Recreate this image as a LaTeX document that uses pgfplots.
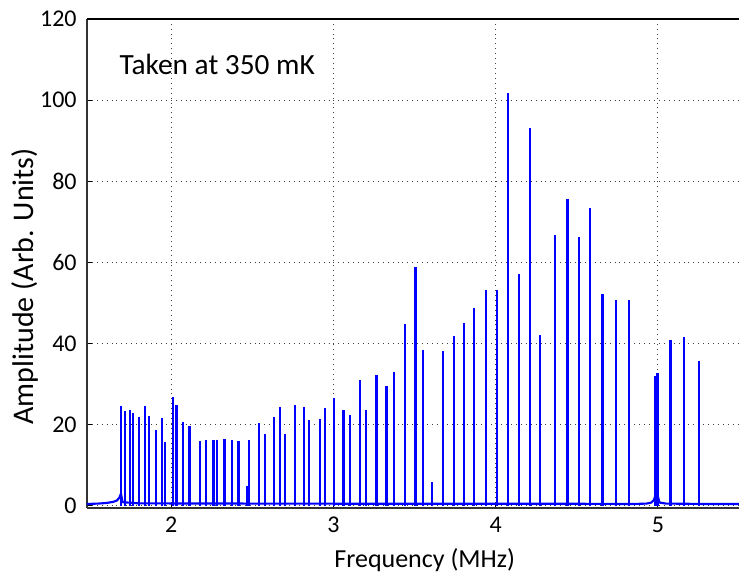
\documentclass[border=0pt]{standalone}
\usepackage{pgfplots}
\pgfplotsset{compat=1.18}
\usepackage{pgfplotstable}
\usepackage{fontspec}
\setmainfont{Carlito}

% resonance peaks: frequency (MHz), amplitude (arb. units)
\pgfplotstableread{
f      h
1.690  24.7
1.717  23.3
1.744  23.5
1.766  22.9
1.803  22.0
1.840  24.6
1.863  22.1
1.906  18.8
1.941  21.6
1.961  15.7
2.012  26.8
2.033  24.9
2.074  20.6
2.113  19.7
2.177  16.0
2.212  16.3
2.261  16.2
2.280  16.2
2.329  16.4
2.376  16.3
2.415  15.9
2.468  4.8
2.481  16.3
2.542  20.4
2.579  17.7
2.635  21.8
2.672  24.4
2.701  17.7
2.762  24.8
2.819  24.4
2.848  21.1
2.916  21.4
2.947  24.0
3.002  26.6
3.062  23.6
3.101  22.4
3.165  31.1
3.201  23.6
3.266  32.3
3.327  29.6
3.374  33.0
3.439  44.9
3.505  58.9
3.553  38.3
3.608  5.8
3.676  38.1
3.742  41.9
3.803  45.0
3.865  48.8
3.939  53.3
4.006  53.3
4.076  101.8
4.144  57.1
4.212  93.2
4.274  42.2
4.364  66.7
4.442  75.7
4.512  66.2
4.580  73.3
4.658  52.1
4.742  50.7
4.822  50.7
4.985  32.0
4.998  32.8
5.077  40.9
5.163  41.5
5.253  35.8
}\peaks

% background level between the resonances
\pgfplotstableread{
f      h
1.480  0.45
1.550  0.55
1.600  0.70
1.640  0.95
1.665  1.30
1.680  2.00
1.690  3.00
1.700  0.90
1.800  0.60
2.500  0.55
3.500  0.50
4.500  0.50
4.850  0.45
4.930  0.55
4.960  0.80
4.975  1.40
4.985  2.60
4.998  2.60
5.010  0.80
5.050  0.55
5.300  0.45
5.500  0.45
}\background

\begin{document}
\begin{tikzpicture}
\begin{axis}[
  at={(0,0)}, anchor=south west,
  scale only axis,
  width=489.3pt, height=366.8pt,
  xmin=1.48, xmax=5.5,
  ymin=-0.5, ymax=120,
  axis x line*=bottom, axis y line*=left,
  axis line style={-, black!80, line width=1pt},
  tick align=inside,
  major tick length=3.5pt,
  tick style={black, line width=0.8pt},
  xtick={2,3,4,5},
  ytick={0,20,40,60,80,100,120},
  grid=major,
  major grid style={black!75, line width=0.6pt, dash pattern=on 0.7pt off 3pt},
  /pgf/number format/assume math mode=true,
  ticklabel style={font=\fontsize{18}{20}\selectfont},
  yticklabel style={anchor=east, inner sep=0pt, xshift=-7.5pt},
  xticklabel style={anchor=north, inner sep=0pt, yshift=-6.5pt},
  xlabel={Frequency (MHz)},
  ylabel={Amplitude (Arb. Units)},
  xlabel style={font=\fontsize{19.5}{22}\selectfont, at={(axis description cs:0.518,-0.1227)}, anchor=base},
  ylabel style={font=\fontsize{22.5}{26}\selectfont, at={(axis description cs:-0.0822,0.453)}, anchor=base},
  clip=true,
]
\addplot[blue, line width=1.6pt, line join=round] table[x=f, y=h] {\background};
\addplot[blue, ycomb, line width=1.7pt] table[x=f, y=h] {\peaks};
\node[anchor=base west, font=\fontsize{22}{26}\selectfont] at (axis cs:1.653,106.2) {Taken at 350 mK};
\end{axis}
\draw[black, line width=1pt] (current axis.north west) -- (current axis.north east);
\pgfresetboundingbox
\path[use as bounding box] (-65.2pt,-51pt) rectangle (489.3pt,381.05pt);
\end{tikzpicture}
\end{document}
